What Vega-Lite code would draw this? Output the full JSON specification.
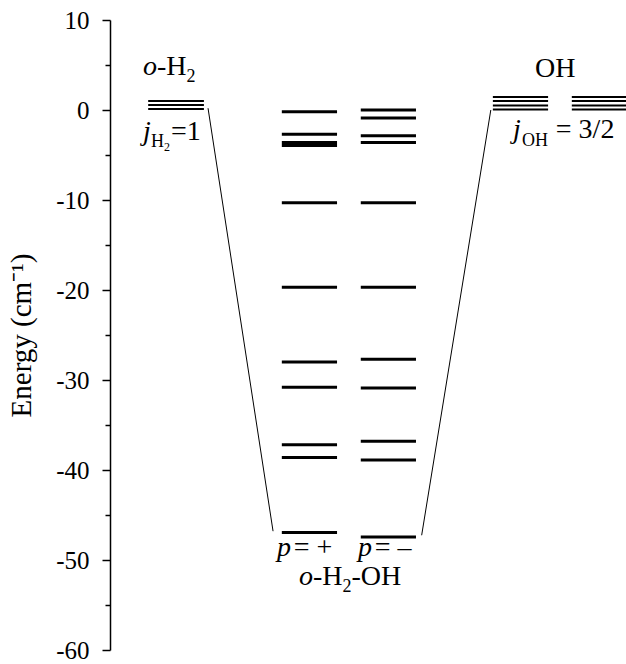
{
  "$schema": "https://vega.github.io/schema/vega-lite/v6.json",
  "width": 516,
  "height": 630,
  "autosize": {"type": "none"},
  "padding": {"left": 110, "top": 20, "right": 0, "bottom": 14},
  "background": "white",
  "config": {"view": {"stroke": null}, "font": "Liberation Serif, Times New Roman, Times, serif"},
  "datasets": {
    "fragment_levels": [
      {"species": "o-H2", "x1": 7.4, "x2": 18.2, "e": 1.0},
      {"species": "o-H2", "x1": 7.4, "x2": 18.2, "e": 0.55},
      {"species": "o-H2", "x1": 7.4, "x2": 18.2, "e": 0.1},
      {"species": "OH a", "x1": 74.2, "x2": 84.9, "e": 1.45},
      {"species": "OH a", "x1": 74.2, "x2": 84.9, "e": 1.0},
      {"species": "OH a", "x1": 74.2, "x2": 84.9, "e": 0.5},
      {"species": "OH a", "x1": 74.2, "x2": 84.9, "e": 0.05},
      {"species": "OH b", "x1": 89.5, "x2": 100, "e": 1.45},
      {"species": "OH b", "x1": 89.5, "x2": 100, "e": 1.0},
      {"species": "OH b", "x1": 89.5, "x2": 100, "e": 0.5},
      {"species": "OH b", "x1": 89.5, "x2": 100, "e": 0.05}
    ],
    "complex_levels": [
      {"parity": "+", "x1": 33.3, "x2": 44.0, "e": -0.2},
      {"parity": "+", "x1": 33.3, "x2": 44.0, "e": -2.7},
      {"parity": "+", "x1": 33.3, "x2": 44.0, "e": -3.6},
      {"parity": "+", "x1": 33.3, "x2": 44.0, "e": -3.95},
      {"parity": "+", "x1": 33.3, "x2": 44.0, "e": -10.3},
      {"parity": "+", "x1": 33.3, "x2": 44.0, "e": -19.7},
      {"parity": "+", "x1": 33.3, "x2": 44.0, "e": -28.0},
      {"parity": "+", "x1": 33.3, "x2": 44.0, "e": -30.8},
      {"parity": "+", "x1": 33.3, "x2": 44.0, "e": -37.2},
      {"parity": "+", "x1": 33.3, "x2": 44.0, "e": -38.6},
      {"parity": "+", "x1": 33.3, "x2": 44.0, "e": -46.95},
      {"parity": "-", "x1": 48.6, "x2": 59.3, "e": 0.0},
      {"parity": "-", "x1": 48.6, "x2": 59.3, "e": -0.9},
      {"parity": "-", "x1": 48.6, "x2": 59.3, "e": -2.85},
      {"parity": "-", "x1": 48.6, "x2": 59.3, "e": -3.6},
      {"parity": "-", "x1": 48.6, "x2": 59.3, "e": -10.3},
      {"parity": "-", "x1": 48.6, "x2": 59.3, "e": -19.7},
      {"parity": "-", "x1": 48.6, "x2": 59.3, "e": -27.7},
      {"parity": "-", "x1": 48.6, "x2": 59.3, "e": -30.9},
      {"parity": "-", "x1": 48.6, "x2": 59.3, "e": -36.8},
      {"parity": "-", "x1": 48.6, "x2": 59.3, "e": -38.9},
      {"parity": "-", "x1": 48.6, "x2": 59.3, "e": -47.45}
    ],
    "connectors": [
      {"side": "left", "x": 19.0, "e": 0.2, "x_end": 31.6, "e_end": -46.8},
      {"side": "right", "x": 60.4, "e": -47.25, "x_end": 73.8, "e_end": 0.0}
    ],
    "label_regular": [
      {"text": "-H", "x": 9.11, "e": 3.88},
      {"text": "=1", "x": 11.82, "e": -3.32},
      {"text": "OH", "x": 82.36, "e": 3.65},
      {"text": "= 3/2", "x": 86.4, "e": -3.1},
      {"text": "= +", "x": 35.6, "e": -49.61},
      {"text": "= –", "x": 51.3, "e": -49.61},
      {"text": "-H", "x": 39.34, "e": -52.82},
      {"text": "-OH", "x": 46.8, "e": -52.82}
    ],
    "label_italic": [
      {"text": "o", "x": 6.4, "e": 3.88},
      {"text": "j", "x": 6.4, "e": -3.32},
      {"text": "j", "x": 78.1, "e": -3.1},
      {"text": "p", "x": 32.36, "e": -49.61},
      {"text": "p", "x": 48.06, "e": -49.61},
      {"text": "o", "x": 36.63, "e": -52.82}
    ],
    "label_sub": [
      {"text": "2", "x": 14.83, "e": 3.1},
      {"text": "H", "x": 7.95, "e": -4.1},
      {"text": "OH", "x": 79.84, "e": -3.99},
      {"text": "2", "x": 45.06, "e": -53.6}
    ],
    "label_subsub": [
      {"text": "2", "x": 10.47, "e": -4.54}
    ]
  },
  "layer": [
    {
      "data": {"name": "fragment_levels"},
      "mark": {"type": "rule", "strokeWidth": 2, "color": "black"},
      "encoding": {
        "x": {"field": "x1", "type": "quantitative", "axis": null, "scale": {"domain": [0, 100], "nice": false, "zero": false}},
        "x2": {"field": "x2"},
        "y": {
          "field": "e", "type": "quantitative",
          "scale": {"domain": [-60, 10], "nice": false, "zero": false},
          "title": "Energy (cm⁻¹)",
          "axis": {
            "values": [-60, -55, -50, -45, -40, -35, -30, -25, -20, -15, -10, -5, 0, 5, 10],
            "labelExpr": "datum.value % 10 === 0 ? toString(datum.value) : ''",
            "tickSize": {"condition": {"test": "datum.value % 10 !== 0", "value": 5}, "value": 8},
            "tickColor": "black",
            "tickWidth": 1.5,
            "domainColor": "black",
            "domainWidth": 1.5,
            "grid": false,
            "labelFont": "Liberation Serif, Times New Roman, Times, serif",
            "labelFontSize": 25,
            "labelColor": "black",
            "labelPadding": 13,
            "labelBound": false,
            "labelFlush": false,
            "labelOverlap": false,
            "titleFont": "Liberation Serif, Times New Roman, Times, serif",
            "titleFontSize": 29,
            "titleFontWeight": "normal",
            "titleColor": "black",
            "titlePadding": 19
          }
        }
      }
    },
    {
      "data": {"name": "complex_levels"},
      "mark": {"type": "rule", "strokeWidth": 3, "color": "black"},
      "encoding": {
        "x": {"field": "x1", "type": "quantitative", "axis": null},
        "x2": {"field": "x2"},
        "y": {"field": "e", "type": "quantitative"}
      }
    },
    {
      "data": {"name": "connectors"},
      "mark": {"type": "rule", "strokeWidth": 1, "color": "black"},
      "encoding": {
        "x": {"field": "x", "type": "quantitative", "axis": null},
        "x2": {"field": "x_end"},
        "y": {"field": "e", "type": "quantitative"},
        "y2": {"field": "e_end"}
      }
    },
    {
      "data": {"name": "label_regular"},
      "mark": {"type": "text", "align": "left", "baseline": "alphabetic", "font": "Liberation Serif, Times New Roman, Times, serif", "fontSize": 28, "color": "black"},
      "encoding": {
        "x": {"field": "x", "type": "quantitative", "axis": null},
        "y": {"field": "e", "type": "quantitative"},
        "text": {"field": "text"}
      }
    },
    {
      "data": {"name": "label_italic"},
      "mark": {"type": "text", "align": "left", "baseline": "alphabetic", "font": "Liberation Serif, Times New Roman, Times, serif", "fontStyle": "italic", "fontSize": 28, "color": "black"},
      "encoding": {
        "x": {"field": "x", "type": "quantitative", "axis": null},
        "y": {"field": "e", "type": "quantitative"},
        "text": {"field": "text"}
      }
    },
    {
      "data": {"name": "label_sub"},
      "mark": {"type": "text", "align": "left", "baseline": "alphabetic", "font": "Liberation Serif, Times New Roman, Times, serif", "fontSize": 18, "color": "black"},
      "encoding": {
        "x": {"field": "x", "type": "quantitative", "axis": null},
        "y": {"field": "e", "type": "quantitative"},
        "text": {"field": "text"}
      }
    },
    {
      "data": {"name": "label_subsub"},
      "mark": {"type": "text", "align": "left", "baseline": "alphabetic", "font": "Liberation Serif, Times New Roman, Times, serif", "fontSize": 12, "color": "black"},
      "encoding": {
        "x": {"field": "x", "type": "quantitative", "axis": null},
        "y": {"field": "e", "type": "quantitative"},
        "text": {"field": "text"}
      }
    }
  ]
}
